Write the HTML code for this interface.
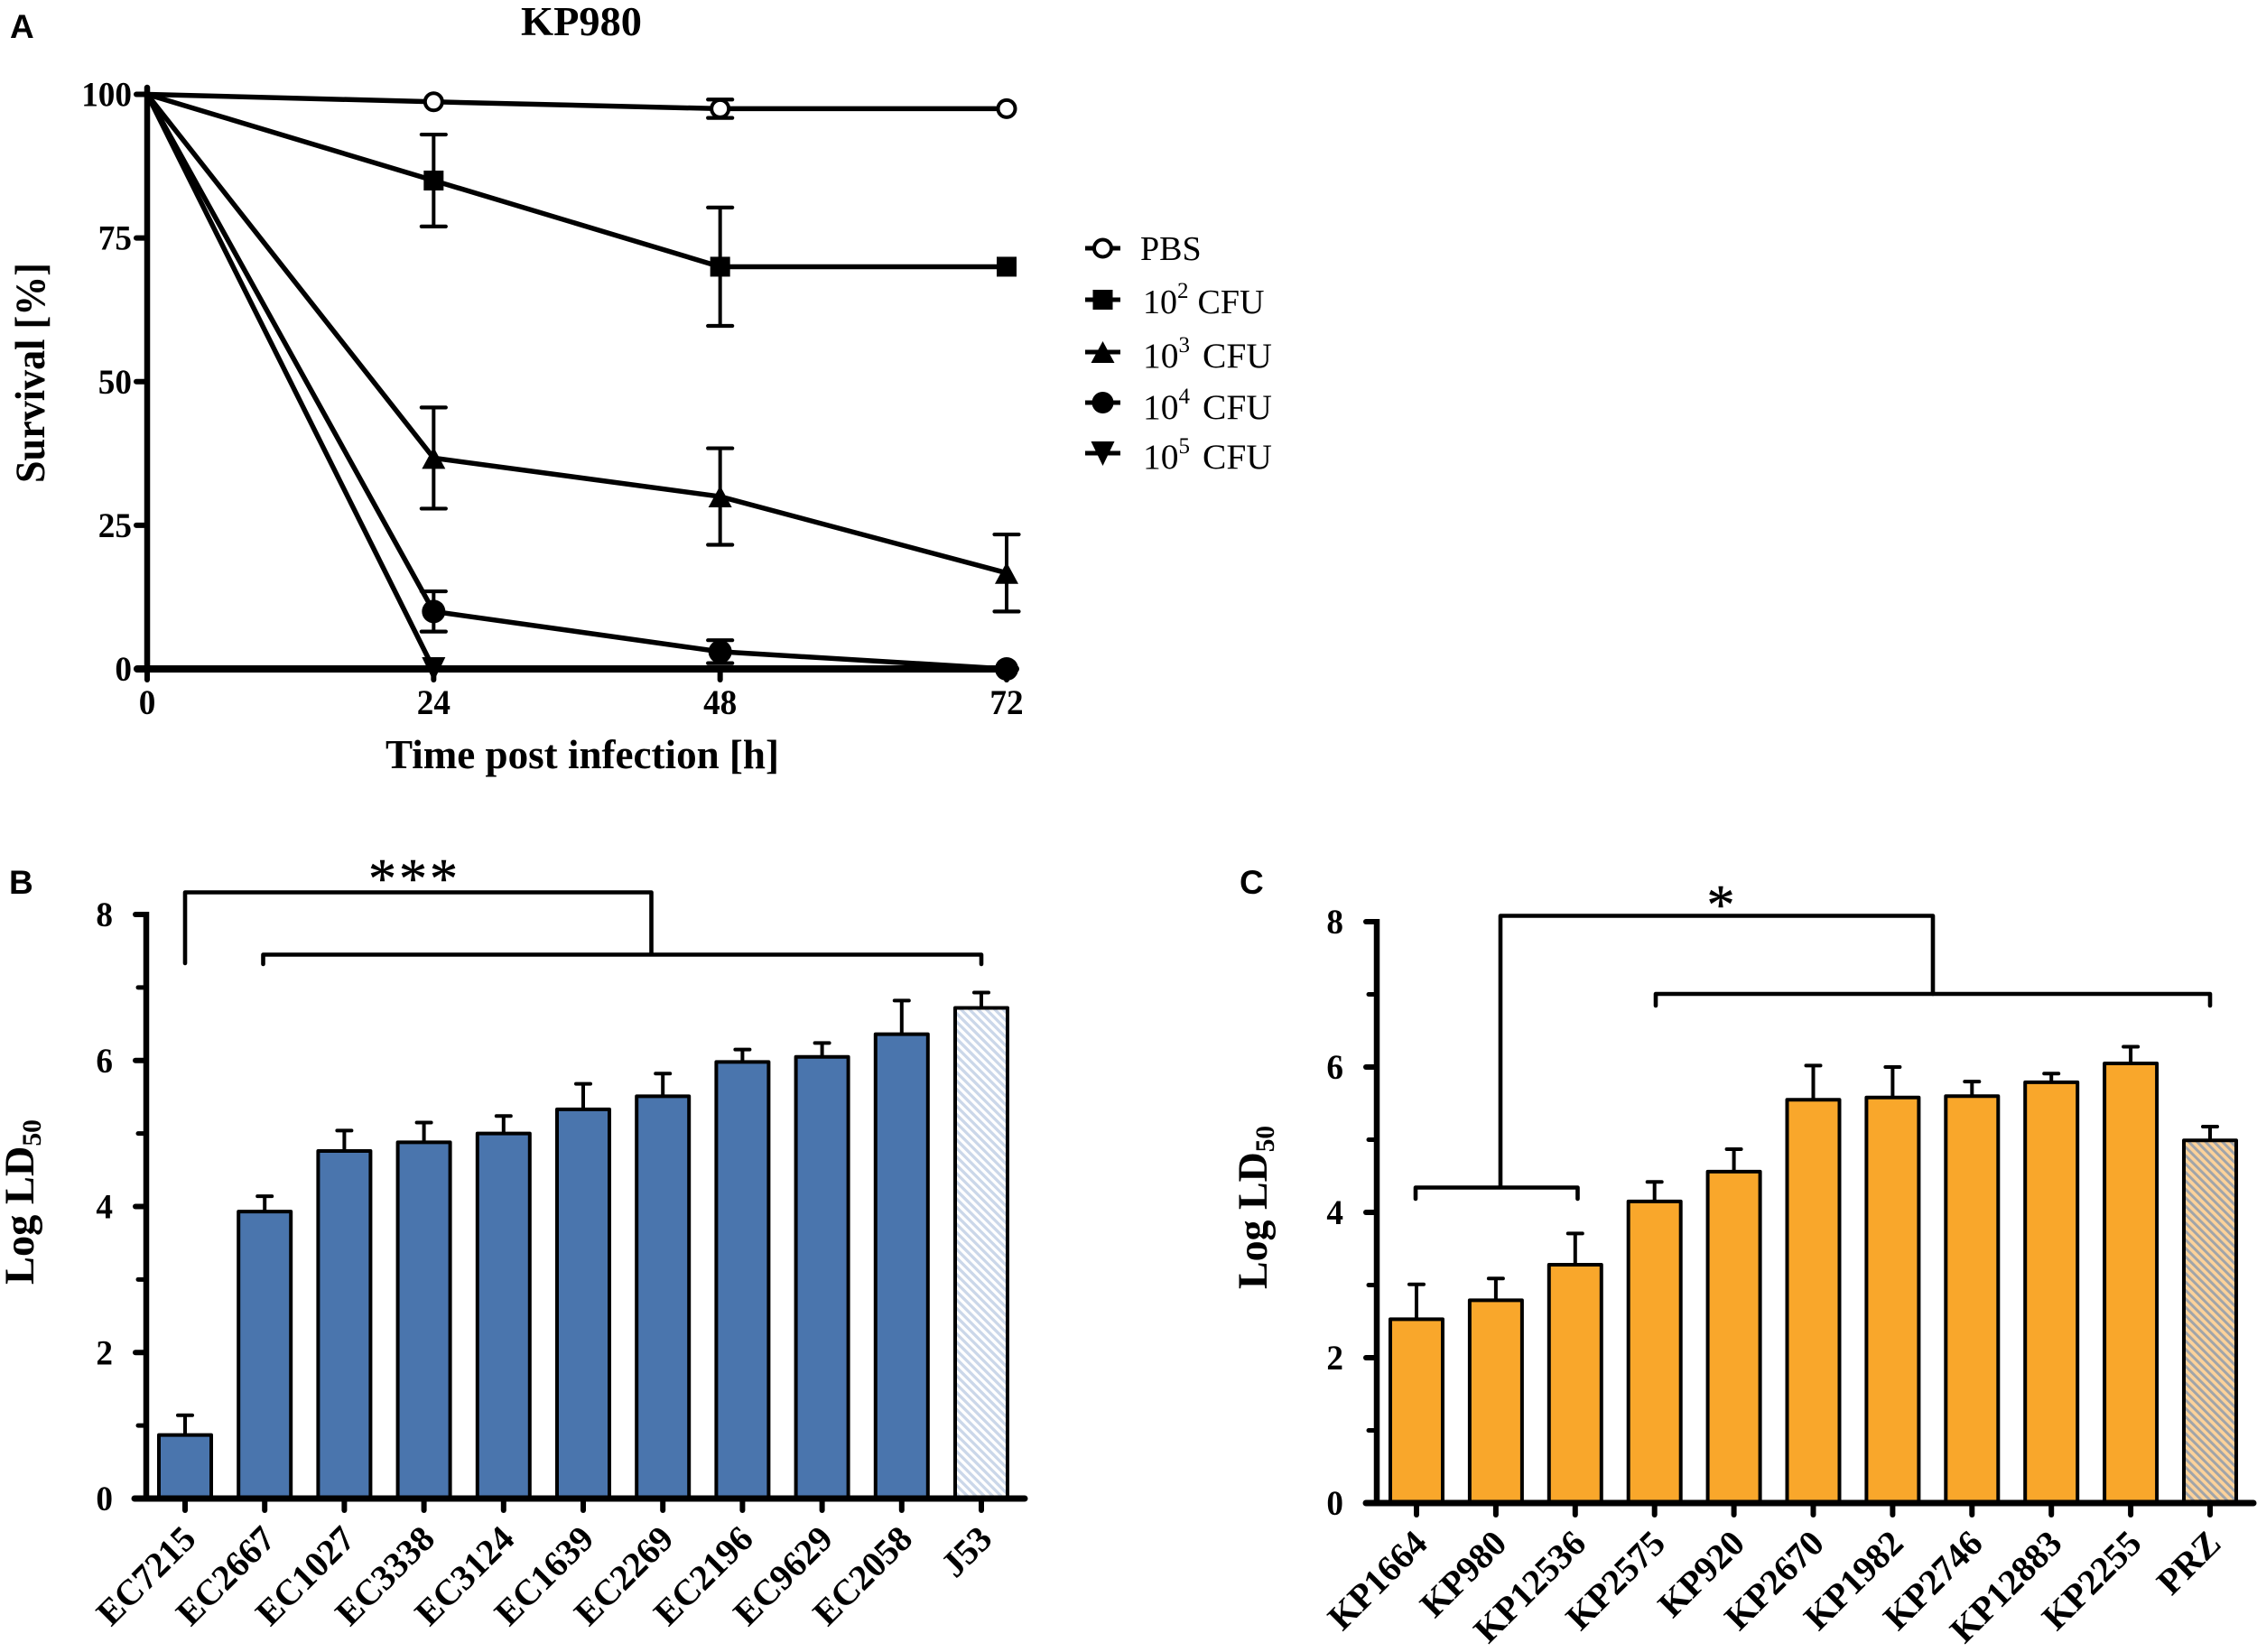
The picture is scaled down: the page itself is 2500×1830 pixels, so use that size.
<!DOCTYPE html>
<html lang="en">
<head>
<meta charset="utf-8">
<title>KP980 survival and Log LD50 charts</title>
<style>
html,body{margin:0;padding:0;background:#fff;}
svg{display:block;}
text{font-family:"Liberation Serif",serif;fill:#000;}
.panel-letter{font-family:"Liberation Sans",sans-serif;font-weight:bold;font-size:37px;}
.b{font-weight:bold;}
</style>
</head>
<body>
<svg id="figure" xmlns="http://www.w3.org/2000/svg" width="2500" height="1830" viewBox="0 0 2500 1830">
  <defs>
    <pattern id="hatch-blue" patternUnits="userSpaceOnUse" width="6.6" height="6.6" patternTransform="rotate(-45)">
      <rect width="6.6" height="6.6" fill="#ffffff"/>
      <rect width="3.3" height="6.6" fill="#cbd7e9"/>
    </pattern>
    <pattern id="hatch-orange" patternUnits="userSpaceOnUse" width="6.6" height="6.6" patternTransform="rotate(-45)">
      <rect width="6.6" height="6.6" fill="#fcd29a"/>
      <rect width="3" height="6.6" fill="#a0a4a9"/>
    </pattern>
  </defs>
  <rect width="2500" height="1830" fill="#ffffff"/>
  <text class="panel-letter" x="11" y="42">A</text>
  <text class="panel-letter" x="10" y="990">B</text>
  <text class="panel-letter" x="1373" y="990">C</text>
  <text class="b" x="644" y="39" font-size="45" text-anchor="middle" textLength="134" lengthAdjust="spacingAndGlyphs">KP980</text>
  <text class="b" x="645" y="851" font-size="45" text-anchor="middle" textLength="436" lengthAdjust="spacingAndGlyphs">Time post infection [h]</text>
  <text class="b" transform="translate(49,413) rotate(-90)" font-size="47" text-anchor="middle" textLength="244" lengthAdjust="spacingAndGlyphs">Survival [%]</text>
  <text class="b" transform="translate(37,1423) rotate(-90)" font-size="47" textLength="183" lengthAdjust="spacingAndGlyphs">Log LD<tspan font-size="30" dy="8">50</tspan></text>
  <text class="b" transform="translate(1403,1428) rotate(-90)" font-size="47" textLength="181" lengthAdjust="spacingAndGlyphs">Log LD<tspan font-size="30" dy="8">50</tspan></text>
  <g id="chart-a"></g>
  <g id="legend"></g>
  <g id="chart-b"></g>
  <g id="chart-c"></g>
</svg>
<script>
// ---------- Chart A data ----------
const timeTicks = [0, 24, 48, 72];
const survivalTicks = [0, 25, 50, 75, 100];
const seriesNames = ['PBS', '10^2 CFU', '10^3 CFU', '10^4 CFU', '10^5 CFU'];
const seriesKeys = ['pbs', '1e2', '1e3', '1e4', '1e5'];
const markerKinds = ['open', 'square', 'up', 'circle', 'down'];
const survivalPBS = [100, 98.7, 97.5, 97.5];
const survival1e2 = [100, 85, 70, 70];
const survival1e3 = [100, 36.7, 30, 16.7];
const survival1e4 = [100, 10, 3, 0];
const survival1e5 = [100, 0];
const errorPBS = [0, 0, 1.6, 0];
const error1e2 = [0, 8, 10.3, 0];
const error1e3 = [0, 8.8, 8.4, 6.7];
const error1e4 = [0, 3.5, 2, 0];
const error1e5 = [0, 0];
// ---------- Chart B data ----------
const ecStrains = ['EC7215','EC2667','EC1027','EC3338','EC3124','EC1639','EC2269','EC2196','EC9629','EC2058','J53'];
const ecValues = [0.87, 3.93, 4.76, 4.88, 5.0, 5.33, 5.51, 5.98, 6.05, 6.36, 6.72];
const ecErrorTops = [1.14, 4.14, 5.04, 5.15, 5.24, 5.68, 5.82, 6.15, 6.24, 6.82, 6.93];
// ---------- Chart C data ----------
const kpStrains = ['KP1664','KP980','KP12536','KP2575','KP920','KP2670','KP1982','KP2746','KP12883','KP2255','PRZ'];
const kpValues = [2.53, 2.79, 3.28, 4.15, 4.56, 5.55, 5.58, 5.6, 5.79, 6.05, 4.99];
const kpErrorTops = [3.01, 3.09, 3.71, 4.42, 4.87, 6.02, 6.0, 5.8, 5.91, 6.28, 5.18];
const ld50MajorTicks = [0, 2, 4, 6, 8];
const ld50MinorTicks = [1, 3, 5, 7];

const NS = 'http://www.w3.org/2000/svg';
function mk(parent, tag, attrs, txt) {
  const e = document.createElementNS(NS, tag);
  for (const k in attrs) e.setAttribute(k, attrs[k]);
  if (txt !== undefined) e.textContent = txt;
  parent.appendChild(e);
  return e;
}
function line(parent, x1, y1, x2, y2, w, cap) {
  return mk(parent, 'line', {x1: x1, y1: y1, x2: x2, y2: y2, stroke: '#000', 'stroke-width': w, 'stroke-linecap': cap || 'butt'});
}
function drawMarker(parent, kind, cx, cy, legendSized) {
  if (kind === 'open') return mk(parent, 'circle', {cx: cx, cy: cy, r: 9.5, fill: '#fff', stroke: '#000', 'stroke-width': 4});
  if (kind === 'square') return mk(parent, 'rect', {x: cx - 11, y: cy - 11, width: 22, height: 22, fill: '#000'});
  if (kind === 'circle') return mk(parent, 'circle', {cx: cx, cy: cy, r: legendSized ? 12 : 13, fill: '#000'});
  if (kind === 'up') return mk(parent, 'polygon', {points: (cx - 13) + ',' + (cy + 12) + ' ' + (cx + 13) + ',' + (cy + 12) + ' ' + cx + ',' + (cy - 12), fill: '#000'});
  return mk(parent, 'polygon', {points: (cx - 13) + ',' + (cy - 13) + ' ' + (cx + 13) + ',' + (cy - 13) + ' ' + cx + ',' + (cy + 14), fill: '#000'});
}
function tickText(parent, x, y, anchor, str) {
  return mk(parent, 'text', {x: x, y: y, 'font-size': 39.5, 'text-anchor': anchor, class: 'b',
    textLength: str.length * 18.6, lengthAdjust: 'spacingAndGlyphs'}, str);
}

// ---------- Chart A ----------
const gA = document.getElementById('chart-a');
const xA = t => 163 + (t / 72) * (1115 - 163);
const yA = v => 741 - (v / 100) * (741 - 104.5);
const allSurvival = [survivalPBS, survival1e2, survival1e3, survival1e4, survival1e5];
const allErrors = [errorPBS, error1e2, error1e3, error1e4, error1e5];

survivalTicks.forEach(function (v) {
  const t = line(gA, 151, yA(v), 163, yA(v), 6, 'round');
  
  
  const l = tickText(gA, 146, yA(v) + 13, 'end', String(v));
  
  
});
timeTicks.forEach(function (v) {
  const t = line(gA, xA(v), 741, xA(v), 753, 6, 'round');
  
  
  const l = tickText(gA, xA(v), 791, 'middle', String(v));
  
  
});
const axisAY = line(gA, 163, 97, 163, 744, 6.5, 'round');


const axisAX = line(gA, 152, 741, 1125, 741, 8, 'round');



allSurvival.forEach(function (vals, s) {
  const g = mk(gA, 'g', {});
  
  
  const pts = vals.map((v, i) => xA(timeTicks[i]) + ',' + yA(v)).join(' ');
  const pl = mk(g, 'polyline', {points: pts, fill: 'none', stroke: '#000', 'stroke-width': 5.5, 'stroke-linejoin': 'round'});
  
  
  vals.forEach(function (v, i) {
    const err = allErrors[s][i];
    const px = xA(timeTicks[i]);
    if (err > 0) {
      const eg = mk(g, 'g', {});
      
      
      line(eg, px, yA(v + err), px, yA(v - err), 4);
      line(eg, px - 13.5, yA(v + err), px + 13.5, yA(v + err), 4.2, 'round');
      line(eg, px - 13.5, yA(v - err), px + 13.5, yA(v - err), 4.2, 'round');
    }
    if (i > 0) {
      const m = drawMarker(g, markerKinds[s], px, yA(v));
      
      
    }
  });
});

// ---------- Legend ----------
const gL = document.getElementById('legend');
const legendRows = [275, 332, 390, 446, 502];
const legendBase = [288, 347, 407, 464, 519];
const legendGap = [0, 10, 14, 14, 14];
const legendSize = [38, 38, 39.5, 39.5, 39.5];
seriesNames.forEach(function (name, i) {
  const g = mk(gL, 'g', {});
  
  
  line(g, 1202, legendRows[i], 1241, legendRows[i], 5);
  drawMarker(g, markerKinds[i], 1221.5, legendRows[i], true);
  const parts = name.split('^');
  if (parts.length === 1) {
    mk(g, 'text', {x: 1263, y: legendBase[i], 'font-size': 38}, name);
  } else {
    const t = mk(g, 'text', {x: 1266, y: legendBase[i], 'font-size': legendSize[i]}, '10');
    const words = parts[1].split(' ');
    const sup = mk(t, 'tspan', {'font-size': 25, dy: -17}, words[0]);
    
    
    mk(t, 'tspan', {dy: 17, dx: legendGap[i]}, words[1]);
  }
});

// ---------- Bar charts ----------
function barChart(cfg) {
  const g = cfg.group;
  const y = v => cfg.y0 - (v / 8) * (cfg.y0 - cfg.y8);
  const x = i => cfg.xFirst + i * cfg.step;
  ld50MinorTicks.forEach(function (v) {
    const t = line(g, cfg.axisX - 9, y(v), cfg.axisX, y(v), 5, 'round');
    
    
  });
  ld50MajorTicks.forEach(function (v) {
    const t = line(g, cfg.axisX - 12, y(v), cfg.axisX, y(v), 6, 'round');
    
    
    const l = tickText(g, cfg.axisX - 37, y(v) + 13, 'end', String(v));
    
    
  });
  const ay = line(g, cfg.axisX, cfg.y8 - 3, cfg.axisX, cfg.y0, 6.5);
  
  
  cfg.names.forEach(function (name, i) {
    const cx = x(i);
    const hatched = i === cfg.names.length - 1;
    const eb = mk(g, 'g', {});
    
    
    line(eb, cx, y(cfg.values[i]), cx, y(cfg.tops[i]), 4);
    line(eb, cx - 8, y(cfg.tops[i]), cx + 8, y(cfg.tops[i]), 4, 'round');
    const b = mk(g, 'rect', {x: cx - cfg.barW / 2, y: y(cfg.values[i]), width: cfg.barW, height: y(0) - y(cfg.values[i]),
      fill: hatched ? cfg.hatch : cfg.color, stroke: '#000', 'stroke-width': 4, 'stroke-linejoin': 'round'});
    
    
    const t = line(g, cx, cfg.y0, cx, cfg.y0 + 13, 6, 'round');
    
    
    const lx = cx + 14, ly = cfg.y0 + 47;
    const l = mk(g, 'text', {x: 0, y: 0, 'font-size': 40, 'text-anchor': 'end', class: 'b',
      transform: 'translate(' + lx + ',' + ly + ') rotate(-45)'}, name);
    
    
  });
  const ax = line(g, cfg.xAxisFrom, cfg.y0, cfg.xAxisTo, cfg.y0, 7, 'round');
  
  
}
barChart({group: document.getElementById('chart-b'), names: ecStrains, values: ecValues, tops: ecErrorTops,
  y0: 1660, y8: 1013, axisX: 162, xFirst: 205, step: 88.2, barW: 58, color: '#4a75ad', hatch: 'url(#hatch-blue)',
  xAxisFrom: 149, xAxisTo: 1135});
barChart({group: document.getElementById('chart-c'), names: kpStrains, values: kpValues, tops: kpErrorTops,
  y0: 1665, y8: 1021, axisX: 1525, xFirst: 1569, step: 87.9, barW: 58, color: '#f9a72b', hatch: 'url(#hatch-orange)',
  xAxisFrom: 1513, xAxisTo: 2496});

// ---------- Significance brackets ----------
function bracketPath(parent, name, d) {
  const p = mk(parent, 'path', {d: d, fill: 'none', stroke: '#000', 'stroke-width': 4.6, 'stroke-linejoin': 'round', 'stroke-linecap': 'round'});
  
  
}
const gB = document.getElementById('chart-b');
const gC = document.getElementById('chart-c');
bracketPath(gB, 'significance-bracket-top', 'M205 1067V988.5H721.5V1057');
bracketPath(gB, 'significance-bracket-group', 'M291.5 1068V1057.5H1087V1068');
const starsB = mk(gB, 'text', {x: 459, y: 994, 'font-size': 62, 'text-anchor': 'middle', 'letter-spacing': 3, stroke: '#000', 'stroke-width': 0.5}, '***');


bracketPath(gC, 'significance-bracket-top', 'M1662 1315V1014.5H2141V1101');
bracketPath(gC, 'significance-bracket-group-right', 'M1834 1114V1101H2448V1114');
bracketPath(gC, 'significance-bracket-group-left', 'M1568 1328V1315.5H1747.5V1328');
const starC = mk(gC, 'text', {x: 1906, y: 1023, 'font-size': 62, 'text-anchor': 'middle', stroke: '#000', 'stroke-width': 0.5}, '*');


</script>
</body>
</html>
